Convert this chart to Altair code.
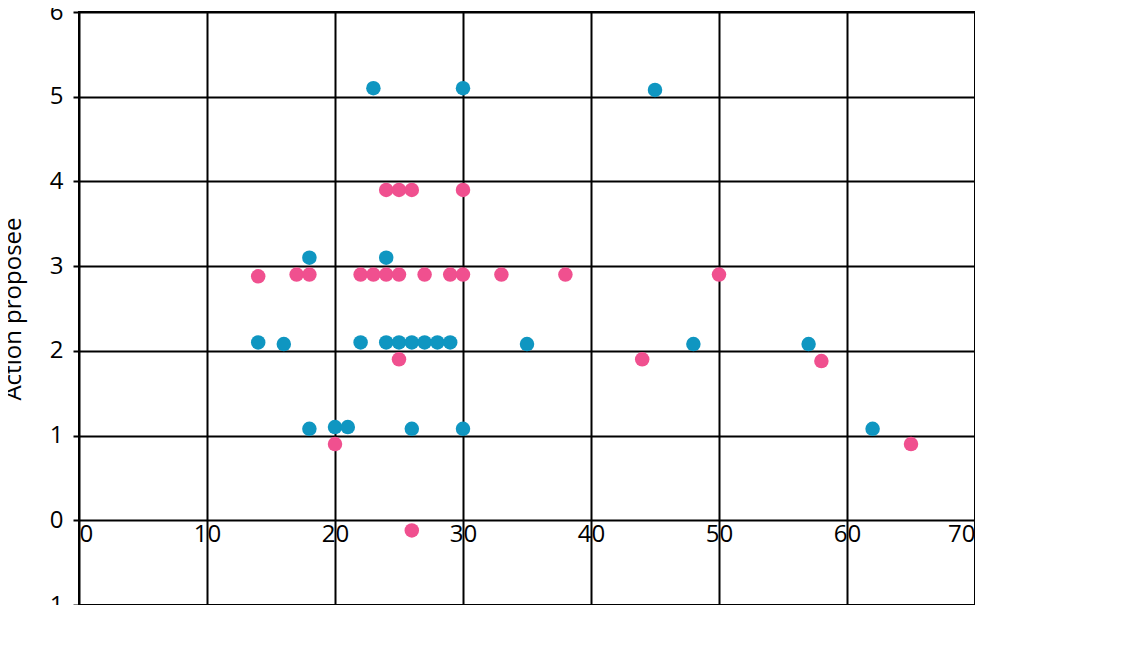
import altair as alt
import pandas as pd

femme_age = [23, 30, 45, 18, 24, 14, 16, 22, 24, 25, 26, 27, 28, 29, 35, 48, 57, 18, 20, 21, 26, 30, 62]
femme_action = [5.1, 5.1, 5.08, 3.1, 3.1, 2.1, 2.08, 2.1, 2.1, 2.1, 2.1, 2.1, 2.1, 2.1, 2.08, 2.08, 2.08, 1.08, 1.1, 1.1, 1.08, 1.08, 1.08]
homme_age = [24, 25, 26, 30, 14, 17, 18, 22, 23, 24, 25, 27, 29, 30, 33, 38, 50, 25, 44, 58, 20, 65, 26]
homme_action = [3.9, 3.9, 3.9, 3.9, 2.88, 2.9, 2.9, 2.9, 2.9, 2.9, 2.9, 2.9, 2.9, 2.9, 2.9, 2.9, 2.9, 1.9, 1.9, 1.88, 0.9, 0.9, -0.12]

df = pd.concat([
    pd.DataFrame({'Age': femme_age, 'Action': femme_action, 'Sexe': 'Femme'}),
    pd.DataFrame({'Age': homme_age, 'Action': homme_action, 'Sexe': 'Homme'}),
])

font = 'Open Sans'

chart = alt.Chart(df).mark_circle(size=210, opacity=1).encode(
    alt.X('Age:Q', title='Âge',
          scale=alt.Scale(domain=[0, 70], nice=False, zero=False),
          axis=alt.Axis(values=list(range(0, 71, 10)), offset=-85, domain=False, ticks=False,
                        labelFontSize=24, labelPadding=2, titleFontSize=24, titleFontWeight='normal',
                        titlePadding=72, gridColor='black', gridWidth=2, gridOpacity=1,
                        labelColor='black', titleColor='black', labelFont=font, titleFont=font)),
    alt.Y('Action:Q', title='Action proposée',
          scale=alt.Scale(domain=[-1, 6], nice=False, zero=False),
          axis=alt.Axis(values=list(range(-1, 7)), domain=False, ticks=True, tickColor='black',
                        tickWidth=2, tickSize=6,
                        labelExpr="replace(datum.label, '\u2212', '-')",
                        labelFontSize=24, labelPadding=10, titleFontSize=24, titleFontWeight='normal',
                        titlePadding=16, gridColor='black', gridWidth=2, gridOpacity=1,
                        labelColor='black', titleColor='black', labelFont=font, titleFont=font)),
    color=alt.Color('Sexe:N', title=None,
                    scale=alt.Scale(domain=['Femme', 'Homme'], range=['#0f96c1', '#f0508f']),
                    legend=alt.Legend(orient='none', legendX=935, legendY=275, symbolType='circle',
                                      symbolSize=220, labelFontSize=24, labelFont=font,
                                      labelColor='black', rowPadding=10, labelOffset=4)),
).properties(
    width=896,
    height=593,
    autosize='none',
    padding={'left': 71, 'top': 4, 'right': 0, 'bottom': 0},
).configure_view(
    stroke='black', strokeWidth=2
)

chart.save("out.html", embed_options={"renderer": "svg", "actions": False})
